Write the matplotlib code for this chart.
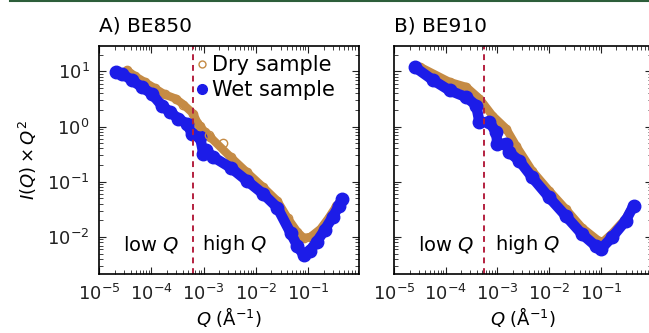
import numpy as np
import matplotlib.pyplot as plt
from matplotlib.lines import Line2D
from matplotlib.ticker import LogLocator, NullFormatter

# ---- data (Q in 1/A, I(Q)*Q^2) ----
# A) BE850
q_dry_A = [3.4e-5, 4.9e-5, 7.6e-5, 1.17e-4, 1.8e-4, 2.9e-4, 4.1e-4, 6.3e-4, 7.6e-4,
           1.07e-3, 1.35e-3, 3.3e-3, 6.8e-3, 1.4e-2, 2.6e-2, 4.1e-2, 6.3e-2, 8.3e-2,
           0.112, 0.175, 0.25, 0.35, 0.45]
i_dry_A = [10.4, 8.1, 6.3, 4.9, 3.8, 3.2, 2.5, 1.72, 1.18,
           0.78, 0.64, 0.28, 0.148, 0.079, 0.045, 0.022, 0.0123, 0.0096,
           0.010, 0.014, 0.022, 0.036, 0.049]
q_dry_A_out = [8.7e-4, 1.29e-3, 2.36e-3]
i_dry_A_out = [1.04, 0.69, 0.50]

q_wet_A = [2.1e-5, 2.7e-5, 4.2e-5, 6.5e-5, 1.02e-4, 1.58e-4, 2.3e-4, 3.3e-4, 4.8e-4,
           6.0e-4, 8.6e-4, 9.9e-4, 1.09e-3, 1.54e-3, 3.3e-3, 6.8e-3, 1.4e-2, 2.6e-2,
           4.7e-2, 6.3e-2, 8.3e-2, 0.108, 0.147, 0.21, 0.30, 0.39, 0.46]
i_wet_A = [9.8, 9.1, 6.9, 5.2, 3.9, 2.4, 1.82, 1.38, 1.12,
           0.74, 0.64, 0.32, 0.37, 0.28, 0.18, 0.104, 0.060, 0.034,
           0.0117, 0.0069, 0.0047, 0.0056, 0.0081, 0.0134, 0.023, 0.036, 0.049]

# B) BE910
q_dry_B = [3.2e-5, 1.19e-4, 2.5e-4, 4.5e-4, 8.0e-4, 1.47e-3, 2.3e-3, 4.7e-3,
           1.0e-2, 2.1e-2, 4.3e-2, 9.1e-2, 0.105, 0.162, 0.30, 0.43]
i_dry_B = [12.0, 6.4, 5.2, 3.2, 1.58, 0.92, 0.45, 0.158,
           0.069, 0.032, 0.0148, 0.0085, 0.0079, 0.0114, 0.0214, 0.038]

q_wet_B = [2.5e-5, 5.7e-5, 1.19e-4, 2.5e-4, 3.9e-4, 4.5e-4, 7.0e-4, 9.4e-4, 1.0e-3,
           1.47e-3, 1.7e-3, 2.65e-3, 4.7e-3, 1.0e-2, 2.1e-2, 4.3e-2, 7.9e-2, 9.9e-2,
           0.163, 0.30, 0.43]
i_wet_B = [12.0, 6.9, 4.5, 3.4, 2.4, 1.2, 1.2, 0.79, 0.49,
           0.49, 0.34, 0.24, 0.12, 0.052, 0.024, 0.0113, 0.0069, 0.0060,
           0.0098, 0.0195, 0.037]

q_cut = [6.3e-4, 5.4e-4]
titles = ['A) BE850', 'B) BE910']

brown = '#c58b45'
blue = '#1c1ce8'
red = '#b4203f'

fig = plt.figure(figsize=(6.49, 3.33), dpi=100)
axA = fig.add_axes([0.153, 0.177, 0.4006, 0.6856])
axB = fig.add_axes([0.607, 0.177, 0.3975, 0.6856])

fig.add_artist(Line2D([0.015, 1.0], [0.998, 0.998], color='#2d5e3a', lw=1.5))

sets = [(axA, q_dry_A, i_dry_A, q_wet_A, i_wet_A),
        (axB, q_dry_B, i_dry_B, q_wet_B, i_wet_B)]

for k, (ax, qd, idr, qw, iw) in enumerate(sets):
    ax.plot(qd, idr, '-', color=brown, lw=6, solid_capstyle='round',
            solid_joinstyle='round')
    ax.plot(qd, idr, 'o', color=brown, mfc='none', ms=6, mew=1)
    ax.plot(qw, iw, '-', color=blue, lw=7.5, solid_capstyle='round',
            solid_joinstyle='round')
    ax.plot(qw, iw, 'o', color=blue, ms=9)
    ax.axvline(q_cut[k], color=red, ls=(0, (3, 2.5)), lw=1.4)
    ax.set_xscale('log')
    ax.set_yscale('log')
    ax.set_xlim(1e-5, 0.97)
    ax.set_ylim(2.13e-3, 29)
    ax.xaxis.set_major_locator(LogLocator(base=10, numticks=12))
    ax.xaxis.set_minor_locator(LogLocator(base=10, subs=np.arange(2, 10), numticks=12))
    ax.xaxis.set_minor_formatter(NullFormatter())
    ax.tick_params(which='both', direction='in', top=True, right=True,
                   labelsize=13, colors='#222222')
    ax.tick_params(which='major', length=5, pad=7)
    ax.tick_params(which='minor', length=3)
    for s in ax.spines.values():
        s.set_linewidth(1.2)
    ax.set_title(titles[k], loc='left', fontsize=14.5, pad=10)
    ax.text(0.20, 0.13, 'low $Q$', transform=ax.transAxes, fontsize=14,
            ha='center', va='center')
    ax.text(0.52, 0.13, 'high $Q$', transform=ax.transAxes, fontsize=14,
            ha='center', va='center')
    ax.set_xlabel(r'$Q$ ($\mathrm{\AA}^{-1}$)', fontsize=13, labelpad=1)

axA.plot(q_dry_A_out, i_dry_A_out, 'o', color=brown, mfc='none', ms=6, mew=1)
axA.set_ylabel(r'$I(Q)\times Q^2$', fontsize=13, labelpad=6)
axB.tick_params(labelleft=False)

handles = [Line2D([], [], marker='o', ls='none', mfc='none', mec=brown, ms=5, mew=1),
           Line2D([], [], marker='o', ls='none', color=blue, ms=7)]
axA.legend(handles, ['Dry sample', 'Wet sample'], loc='upper left',
           bbox_to_anchor=(0.37, 0.96), frameon=False, fontsize=15,
           handlelength=0.6, handletextpad=0.2, labelspacing=0.25,
           borderpad=0, borderaxespad=0)

fig.savefig('out.png', dpi=100)
